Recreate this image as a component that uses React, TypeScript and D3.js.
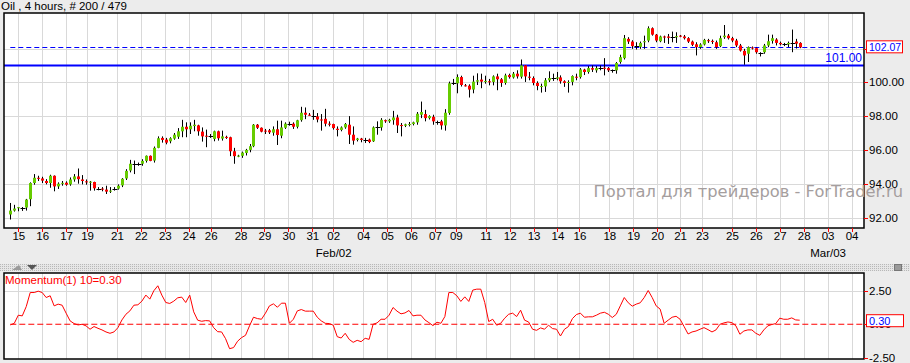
import React from "react";
import * as d3 from "d3";

const W = 910;
const H = 363;

const title = "Oil , 4 hours, # 200 / 479";
const watermark = "Портал для трейдеров - ForTrader.ru";

// open, high, low, close per 4h bar
const ohlc: [number, number, number, number][] = [
  [92.18, 92.86, 91.88, 92.41], [92.41, 92.75, 92.35, 92.53], [92.57, 92.61, 92.37, 92.61], [92.59, 92.62, 92.39, 92.59],
  [92.59, 93.1, 92.41, 93.06], [93.08, 94.08, 92.67, 94.04], [94.04, 94.57, 93.94, 94.35], [94.35, 94.47, 94.16, 94.29],
  [94.31, 94.41, 94.04, 94.18], [94.16, 94.27, 93.96, 94.04], [94.04, 94.53, 93.76, 94.47], [94.47, 94.49, 93.55, 93.84],
  [93.84, 94.08, 93.69, 94.0], [94.04, 94.16, 93.88, 94.05], [94.06, 94.14, 93.88, 93.94], [93.96, 94.37, 93.88, 94.25],
  [94.25, 94.57, 94.12, 94.43], [94.43, 94.9, 94.0, 94.27], [94.25, 94.51, 93.96, 94.16], [94.14, 94.25, 93.94, 94.08],
  [94.1, 94.16, 93.59, 94.12], [94.1, 94.12, 93.59, 93.73], [93.69, 93.8, 93.61, 93.69], [93.71, 93.8, 93.55, 93.67],
  [93.65, 93.88, 93.39, 93.53], [93.53, 93.8, 93.45, 93.59], [93.71, 93.8, 93.59, 93.71], [93.71, 93.96, 93.65, 93.88],
  [93.9, 94.33, 93.8, 94.29], [94.31, 94.86, 94.22, 94.76], [94.78, 95.41, 94.67, 95.18], [95.16, 95.37, 94.57, 95.16],
  [95.16, 95.25, 95.06, 95.16], [95.18, 95.45, 95.06, 95.35], [95.35, 95.67, 95.25, 95.65], [95.65, 95.67, 95.33, 95.35],
  [95.37, 96.2, 95.25, 96.12], [96.12, 96.8, 96.1, 96.69], [96.71, 96.8, 96.43, 96.59], [96.61, 96.71, 96.33, 96.43],
  [96.51, 96.75, 96.39, 96.69], [96.67, 97.0, 96.6, 96.9], [96.78, 97.29, 96.65, 97.1], [97.1, 97.78, 96.75, 97.37],
  [97.37, 97.63, 96.75, 97.22], [97.22, 97.63, 96.94, 97.43], [97.41, 97.78, 97.1, 97.49], [97.45, 97.49, 96.84, 97.1],
  [97.08, 97.33, 96.49, 96.8], [96.84, 97.2, 96.16, 96.82], [96.84, 96.94, 96.71, 96.84], [96.65, 97.14, 96.51, 97.1],
  [97.1, 97.14, 96.55, 96.69], [96.67, 97.14, 96.55, 96.8], [96.77, 96.84, 96.65, 96.75], [96.75, 96.78, 95.63, 95.92],
  [95.92, 96.12, 95.18, 95.63], [95.65, 95.71, 95.57, 95.66], [95.65, 95.9, 95.53, 95.84], [95.82, 96.06, 95.67, 96.0],
  [96.0, 96.35, 95.86, 96.22], [96.22, 97.53, 96.16, 97.49], [97.49, 97.53, 97.24, 97.31], [97.31, 97.33, 97.04, 97.08],
  [97.14, 97.24, 96.94, 97.12], [97.16, 97.24, 96.94, 97.04], [97.02, 97.39, 96.84, 97.22], [97.22, 97.73, 96.29, 96.88],
  [96.84, 97.73, 96.69, 97.33], [97.31, 97.63, 97.24, 97.55], [97.53, 97.67, 97.43, 97.53], [97.55, 97.63, 97.24, 97.37],
  [97.37, 97.78, 97.27, 97.75], [97.76, 98.55, 97.67, 98.2], [98.2, 98.51, 97.82, 98.08], [98.08, 98.18, 98.02, 98.06],
  [97.98, 98.37, 97.78, 97.98], [97.98, 98.18, 97.63, 97.8], [97.8, 98.12, 97.14, 97.78], [97.84, 98.43, 97.39, 97.55],
  [97.55, 97.69, 97.39, 97.49], [97.53, 97.55, 97.2, 97.29], [97.25, 97.39, 96.8, 97.18], [97.18, 97.39, 97.1, 97.33],
  [97.33, 97.59, 97.25, 97.53], [97.49, 98.0, 96.35, 96.9], [96.9, 97.39, 96.31, 96.55], [96.59, 96.71, 96.5, 96.67],
  [96.67, 96.71, 96.45, 96.59], [96.57, 96.71, 96.41, 96.57], [96.61, 96.67, 96.4, 96.47], [96.51, 97.39, 96.47, 97.33],
  [97.33, 97.69, 96.9, 97.33], [97.33, 97.88, 97.14, 97.78], [97.76, 97.8, 97.6, 97.69], [97.69, 97.84, 97.6, 97.78],
  [97.76, 98.31, 97.49, 97.92], [97.92, 98.08, 97.0, 97.45], [97.47, 97.59, 96.8, 97.45], [97.43, 97.55, 97.35, 97.51],
  [97.51, 97.65, 97.39, 97.53], [97.53, 97.67, 97.45, 97.63], [97.63, 98.24, 97.49, 98.14], [98.08, 98.86, 97.88, 98.24],
  [98.12, 98.37, 97.69, 97.88], [97.88, 98.05, 97.8, 98.0], [97.96, 98.08, 97.49, 97.69], [97.63, 97.73, 97.49, 97.63],
  [97.69, 97.78, 97.2, 97.45], [97.45, 98.41, 97.14, 98.2], [98.18, 100.04, 98.08, 99.94], [99.94, 100.2, 99.84, 99.94],
  [99.94, 100.47, 99.35, 100.31], [100.31, 100.39, 99.75, 99.84], [99.82, 99.9, 99.75, 99.8], [99.8, 99.88, 99.1, 99.57],
  [99.57, 100.39, 99.35, 100.04], [100.04, 100.53, 99.84, 100.12], [100.16, 100.51, 99.65, 100.04], [100.02, 100.39, 99.92, 100.08],
  [100.06, 100.2, 99.82, 100.02], [100.02, 100.41, 99.82, 100.35], [100.35, 100.51, 99.53, 100.18], [100.18, 100.25, 99.73, 99.96],
  [99.96, 100.51, 99.86, 100.41], [100.43, 100.51, 100.22, 100.31], [100.29, 100.61, 100.22, 100.51], [100.51, 100.71, 100.22, 100.35],
  [100.33, 101.35, 100.22, 101.0], [101.0, 101.02, 100.02, 100.35], [100.33, 100.61, 100.12, 100.29], [100.25, 100.35, 99.82, 99.96],
  [99.96, 100.06, 99.53, 99.78], [99.75, 99.92, 99.39, 99.78], [99.76, 100.25, 99.43, 100.12], [100.12, 100.65, 100.02, 100.25],
  [100.25, 100.51, 100.08, 100.25], [100.22, 100.61, 100.12, 100.29], [100.29, 100.41, 99.92, 100.06], [100.06, 100.12, 99.73, 99.96],
  [99.96, 100.12, 99.39, 100.02], [100.02, 100.41, 99.82, 100.37], [100.33, 100.51, 100.12, 100.31], [100.31, 100.84, 100.22, 100.76],
  [100.75, 100.8, 100.43, 100.61], [100.61, 100.96, 100.51, 100.84], [100.84, 101.0, 100.61, 100.75], [100.71, 100.96, 100.57, 100.84],
  [100.86, 101.0, 100.71, 100.86], [100.86, 101.43, 100.41, 100.8], [100.84, 100.9, 100.61, 100.71], [100.71, 100.76, 100.57, 100.71],
  [100.71, 101.2, 100.51, 101.14], [101.2, 101.63, 101.1, 101.49], [101.43, 102.8, 101.35, 102.61], [102.57, 102.67, 102.27, 102.41],
  [102.41, 102.49, 101.98, 102.14], [102.14, 102.37, 101.94, 102.14], [102.1, 102.41, 101.98, 102.33], [102.37, 102.76, 101.98, 102.43],
  [102.47, 103.31, 102.37, 103.2], [103.2, 103.25, 102.76, 102.82], [102.82, 102.86, 102.37, 102.47], [102.43, 102.76, 102.37, 102.71],
  [102.71, 102.76, 102.33, 102.67], [102.71, 102.86, 102.27, 102.63], [102.69, 103.0, 102.37, 102.69], [102.67, 102.96, 102.33, 102.73],
  [102.76, 102.8, 102.67, 102.71], [102.71, 102.8, 102.53, 102.61], [102.61, 102.67, 102.33, 102.41], [102.41, 102.47, 102.14, 102.22],
  [102.25, 102.37, 101.59, 102.08], [102.08, 102.31, 101.98, 102.24], [102.24, 102.57, 102.18, 102.51], [102.49, 102.57, 102.33, 102.45],
  [102.45, 102.53, 102.27, 102.41], [102.37, 102.47, 101.98, 102.08], [102.14, 102.76, 102.08, 102.61], [102.67, 103.39, 102.57, 102.76],
  [102.76, 102.86, 102.53, 102.61], [102.61, 102.69, 102.37, 102.47], [102.47, 102.57, 102.08, 102.18], [102.18, 102.27, 101.82, 101.88],
  [101.86, 101.98, 101.04, 101.59], [101.69, 102.12, 101.2, 102.08], [102.06, 102.12, 101.94, 102.04], [102.02, 102.06, 101.69, 101.78],
  [101.75, 101.78, 101.53, 101.75], [101.78, 102.27, 101.69, 102.18], [102.18, 102.82, 102.08, 102.43], [102.45, 102.82, 102.29, 102.61],
  [102.53, 102.61, 102.18, 102.33], [102.33, 102.41, 102.18, 102.25], [102.25, 102.33, 102.14, 102.25], [102.25, 102.41, 102.08, 102.33],
  [102.33, 103.12, 101.78, 102.33], [102.41, 102.57, 102.0, 102.29], [102.33, 102.37, 102.02, 102.07],
];

// Momentum(1) 10, one value per bar
const momentum = [
  -0.05, 0.07, 0.67, 0.62, 1.31, 2.35, 2.35, 2.45, 2.35, 1.98, 2.11, 1.36, 1.49, 1.41, 0.82, 0.25, 0.05, -0.05, 0.0, -0.12,
  -0.37, -0.17, -0.3, -0.42, -0.57, -0.67, -0.57, -0.25, 0.32, 0.74, 0.99, 1.41, 1.44, 1.71, 2.16, 1.86, 2.48, 2.85, 2.16, 1.61,
  1.54, 1.71, 1.96, 2.01, 1.61, 2.16, 0.92, 0.3, 0.22, 0.27, 0.25, -0.25, -0.55, -0.57, -1.07, -1.81, -1.73, -1.26, -0.99, -0.82,
  -0.12, 0.52, 0.42, 0.37, 0.82, 1.36, 1.51, 1.26, 1.56, 1.56, 0.07, 0.37, 0.99, 1.09, 0.97, 0.97, 0.97, 0.52, 0.25, 0.07,
  0.05, -0.07, -0.92, -1.02, -0.67, -1.12, -1.34, -1.19, -1.29, -1.04, -1.12, 0.0, 0.1, 0.37, 0.37, 0.67, 1.24, 0.97, 0.77, 0.84,
  1.02, 0.62, 0.67, 0.67, 0.32, 0.12, -0.1, 0.15, 0.07, 0.57, 2.35, 2.35, 2.11, 1.69, 2.03, 1.69, 2.53, 2.6, 2.6, 1.61,
  0.2, 0.37, -0.07, 0.07, 0.45, 0.74, 0.82, 0.57, 1.04, 0.3, 0.17, -0.37, -0.45, -0.27, -0.37, -0.07, -0.32, -0.37, -0.87, -0.37,
  -0.17, 0.42, 0.72, 0.82, 0.52, 0.55, 0.55, 0.67, 0.82, 0.89, 0.74, 0.5, 0.74, 1.36, 1.98, 1.59, 1.34, 1.49, 1.59, 1.98,
  2.5, 1.98, 1.36, 1.12, 0.07, 0.3, 0.52, 0.59, 0.37, -0.17, -0.72, -0.57, -0.5, -0.37, -0.25, -0.4, -0.57, -0.42, 0.0, 0.1,
  0.17, 0.12, -0.12, -0.74, -0.5, -0.42, -0.42, -0.67, -0.82, -0.42, -0.12, -0.02, 0.05, 0.45, 0.37, 0.37, 0.47, 0.32, 0.3,
];

const dayLabels = [
  "15", "16", "17", "19", "21", "22", "23", "24", "26", "28", "29", "30", "31", "02", "04", "05", "06", "07",
  "09", "11", "12", "13", "14", "16", "18", "19", "20", "21", "23", "25", "26", "27", "28", "03", "04",
];
// bar position where each day starts
const dayBars = [
  2, 8, 14, 19.25, 26.75, 32.75, 38.75, 44.75, 50.25, 57.75, 63.75, 69.75, 75.75, 81, 88.5, 94.5, 100.5, 106.5,
  111.75, 119.25, 125.25, 131.25, 137.25, 142.75, 150.25, 156.25, 162.25, 168, 173.5, 181, 187, 193, 199, 205, 211,
];
const monthLabels = ["Feb/02", "Mar/03"];
const monthDayIndex = [13, 33];

const priceTicks = [92, 94, 96, 98, 100, 102];
const momTicks = [2.5, 0, -2.5];
const lastPrice = 102.07;
const levelPrice = 101.0;
const lastMomentum = 0.3;

const FONT = "'Liberation Sans', Arial, sans-serif";
const GRID = "#d9d9d9";
const GREEN = "#66cc00";
const RED = "#ff0000";
const BLUE = "#0000ff";

const left = 4;
const right = 864;
const mainTop = 13;
const mainBottom = 228;
const momTop = 273;
const momBottom = 359;

export default function App() {
  const x = d3.scaleLinear().domain([0, ohlc.length - 1]).range([10.3, 799.7]);
  const y = d3.scaleLinear().domain([92, 100]).range([217.5, 82.3]);
  const ym = d3.scaleLinear().domain([-2.5, 2.5]).range([358, 290.5]);
  const px = (v: number) => Math.round(v) + 0.5;

  const momLine = d3
    .line<number>()
    .x((_, i) => x(i))
    .y((d) => ym(d));

  // the price-box hides the axis label it sits on
  const hiddenByBox = (p: number) => Math.abs(y(p) - y(lastPrice)) < 8;

  return (
    <>
      <style>{`body{margin:0}`}</style>
      <svg width={W} height={H} style={{ display: "block", fontFamily: FONT }}>
        <defs>
          <pattern id="dots" width="2" height="2" patternUnits="userSpaceOnUse">
            <rect width="2" height="2" fill="#e6e6e6" />
            <rect width="1" height="1" fill="#b8b8b8" />
          </pattern>
          <clipPath id="mainClip">
            <rect x={left} y={mainTop} width={right - left} height={mainBottom - mainTop} />
          </clipPath>
        </defs>
        <rect width={W} height={H} fill="#ececec" />

        <text x={1} y={10} fontSize={11.5} fill="#000">
          {title}
        </text>

        {/* main panel */}
        <rect x={left} y={mainTop} width={right - left} height={mainBottom - mainTop} fill="#fff" />
        {dayBars.map((b, k) => (
          <line key={"vg" + k} x1={px(x(b))} x2={px(x(b))} y1={mainTop} y2={mainBottom} stroke={GRID} />
        ))}
        {priceTicks.map((p) => (
          <line key={"hg" + p} x1={left} x2={right} y1={px(y(p))} y2={px(y(p))} stroke={GRID} />
        ))}

        <g clipPath="url(#mainClip)">
          <line x1={left} x2={right} y1={y(levelPrice)} y2={y(levelPrice)} stroke={BLUE} strokeWidth={2} />
          <line
            x1={x(0)}
            x2={right}
            y1={px(y(lastPrice))}
            y2={px(y(lastPrice))}
            stroke={BLUE}
            strokeDasharray="5,3"
          />
          {ohlc.map(([o, h, l, c], i) => {
            const cx = Math.round(x(i));
            const top = y(Math.max(o, c));
            const bot = y(Math.min(o, c));
            const doji = o === c;
            const fill = c > o ? GREEN : c < o ? RED : "#000";
            return (
              <g key={"c" + i}>
                <line x1={cx + 0.5} x2={cx + 0.5} y1={y(h)} y2={y(l)} stroke="#000" />
                {doji ? (
                  <rect x={cx - 1.5} y={Math.round(top)} width={5} height={1} fill="#000" />
                ) : (
                  <rect x={cx - 1} y={top} width={3} height={Math.max(1, bot - top)} fill={fill} />
                )}
              </g>
            );
          })}
        </g>

        <text x={right - 2} y={62} fontSize={12} fill={BLUE} textAnchor="end">
          {levelPrice.toFixed(2)}
        </text>

        <rect
          x={left}
          y={mainTop}
          width={right - left}
          height={mainBottom - mainTop}
          fill="none"
          stroke="#000"
          strokeWidth={1.5}
        />

        {/* right price axis */}
        {priceTicks.map((p) => (
          <g key={"pt" + p}>
            <line x1={right} x2={right + 4} y1={px(y(p))} y2={px(y(p))} stroke={RED} />
            {!hiddenByBox(p) && (
              <text x={right + 5} y={y(p) + 4} fontSize={11.5} fill="#000">
                {p.toFixed(2)}
              </text>
            )}
          </g>
        ))}
        <rect x={866.5} y={y(lastPrice) - 6.5} width={36} height={12} fill="#fff" stroke={RED} />
        <text x={869} y={y(lastPrice) + 4} fontSize={10.5} fill={BLUE}>
          {lastPrice.toFixed(2)}
        </text>

        {/* bottom time axis */}
        {dayBars.map((b, k) => (
          <g key={"xt" + k}>
            <line x1={px(x(b))} x2={px(x(b))} y1={mainBottom} y2={mainBottom + 4} stroke={RED} />
            <text x={x(b) + 0.5} y={240} fontSize={11.5} textAnchor="middle" fill="#000">
              {dayLabels[k]}
            </text>
          </g>
        ))}
        {monthLabels.map((m, k) => (
          <text key={m} x={x(dayBars[monthDayIndex[k]]) + 0.5} y={257} fontSize={11.5} textAnchor="middle" fill="#000">
            {m}
          </text>
        ))}

        <text x={903} y={197} fontSize={16.3} fill="#a59e9e" textAnchor="end" fontFamily="'DejaVu Sans', sans-serif">
          {watermark}
        </text>

        {/* splitter */}
        <rect x={0} y={264} width={W} height={7} fill="url(#dots)" />
        <path d="M12,270 L22,270 L19,265 Z" fill="#9a9a9a" />
        <path d="M27,265 L37,265 L32,270 Z" fill="#555" />
        <rect x={894.5} y={264.5} width={7} height={6} fill="#9a9a9a" stroke="#777" />

        {/* momentum panel */}
        <rect x={left} y={momTop} width={right - left} height={momBottom - momTop} fill="#fff" />
        {dayBars.map((b, k) => (
          <line key={"mvg" + k} x1={px(x(b))} x2={px(x(b))} y1={momTop} y2={momBottom} stroke={GRID} />
        ))}
        <line x1={left} x2={right} y1={px(ym(2.5))} y2={px(ym(2.5))} stroke={GRID} />
        <line x1={x(0)} x2={right} y1={ym(0)} y2={ym(0)} stroke={RED} strokeDasharray="6,3" strokeWidth={1.2} />
        <path d={momLine(momentum) || ""} fill="none" stroke={RED} strokeWidth={1} />
        <text x={5} y={284} fontSize={11.5} fill={RED}>
          {`Momentum(1) 10=${lastMomentum.toFixed(2)}`}
        </text>
        <rect
          x={left}
          y={momTop}
          width={right - left}
          height={momBottom - momTop}
          fill="none"
          stroke="#000"
          strokeWidth={1.5}
        />
        {momTicks.map((t) => (
          <g key={"mt" + t}>
            <line x1={right} x2={right + 4} y1={px(ym(t))} y2={px(ym(t))} stroke={RED} />
            <text x={right + 5} y={ym(t) + 4} fontSize={11.5} fill="#000">
              {t.toFixed(2)}
            </text>
          </g>
        ))}
        <rect x={866.5} y={ym(lastMomentum) - 5.5} width={37} height={12} fill="#fff" stroke={RED} />
        <text x={869} y={ym(lastMomentum) + 5} fontSize={11} fill={BLUE}>
          {lastMomentum.toFixed(2)}
        </text>
      </svg>
    </>
  );
}
